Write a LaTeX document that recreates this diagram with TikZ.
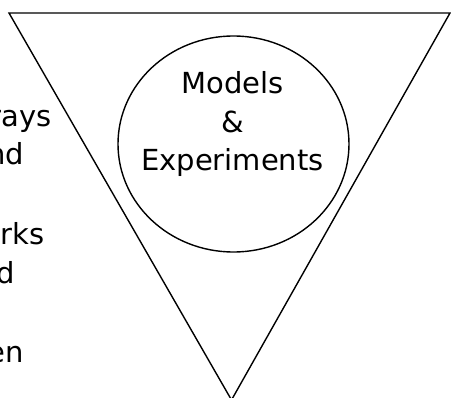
\documentclass[tikz,border=0pt]{standalone}
\usepackage{fontspec}
\setmainfont{DejaVu Sans}
\usetikzlibrary{shapes.geometric}
\begin{document}
\begin{tikzpicture}[x=1pt,y=-1pt,
  outline/.style={draw=black,line width=1.4pt},
  txt/.style={inner sep=0pt,font=\fontsize{29}{38}\selectfont,text=black}]
\useasboundingbox (0,0) rectangle (451,398);
\clip (0,0) rectangle (451,398);
\fill[white] (0,0) rectangle (451,398);
% inverted triangle
\coordinate (tl) at (9,13);
\coordinate (tr) at (450,13);
\coordinate (ap) at (231.5,400);
\draw[outline,line join=miter] (ap) -- (tl) -- (tr) -- cycle;
% circle
\node[ellipse,outline,minimum width=231pt,minimum height=216pt,inner sep=0pt] (circ) at (233.5,144) {};
\node[txt,anchor=base] (m1) at (232.5,94) {Models};
\node[txt,anchor=base] (m2) at (232.5,133) {\&};
\node[txt,anchor=base] (m3) at (232.5,171) {Experiments};
% clipped left text
\node[txt,anchor=base east] (l1) at (52,127) {rays};
\node[txt,anchor=base east] (l2) at (24,165) {nd};
\node[txt,anchor=base east] (l3) at (45,245) {orks};
\node[txt,anchor=base east] (l4) at (15,284) {d};
\node[txt,anchor=base east] (l5) at (24,363) {en};
\end{tikzpicture}
\end{document}
